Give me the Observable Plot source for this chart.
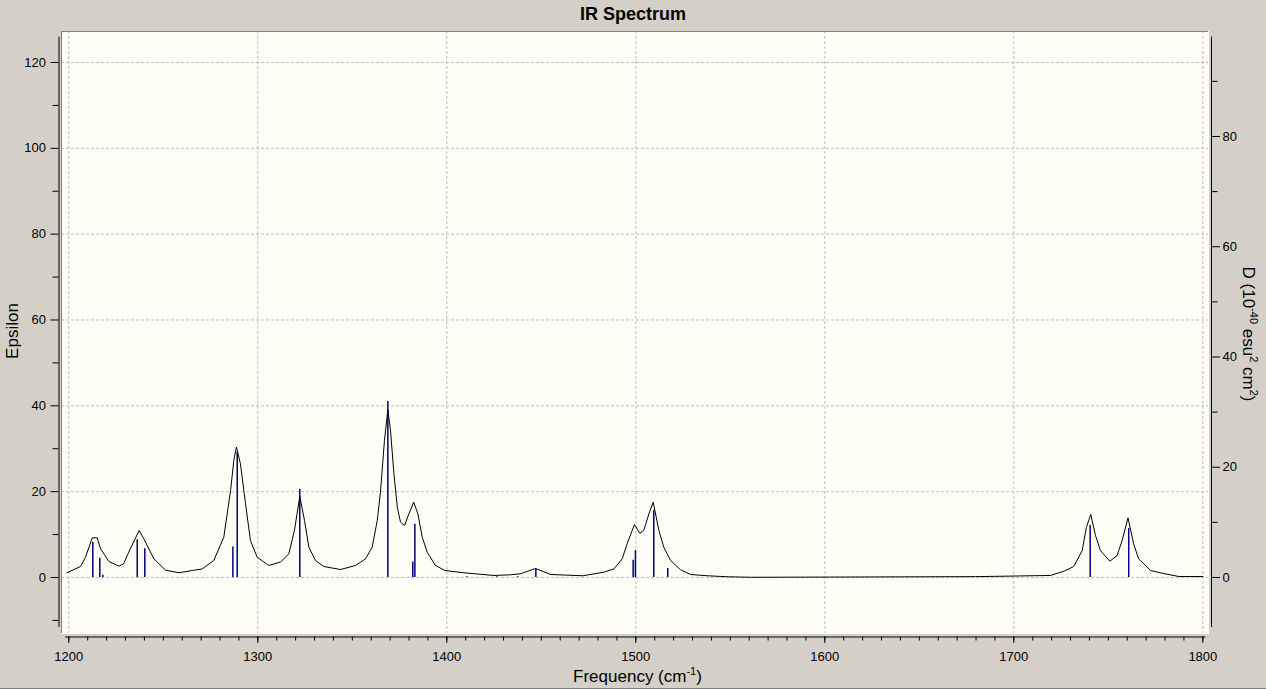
<!DOCTYPE html>
<html>
<head>
<meta charset="utf-8">
<script src="https://cdn.jsdelivr.net/npm/d3@7"></script>
<script src="https://cdn.jsdelivr.net/npm/@observablehq/plot@0.6"></script>
<style>
  html, body { margin: 0; padding: 0; background: #d4d0c8; }
  #wrap { width: 1266px; height: 688px; border-bottom: 1px solid #808080; overflow: hidden; }
  #title { height: 24px; padding-top: 4px; line-height: 22px; text-align: center; font: bold 18px "Liberation Sans", Arial, sans-serif; color: #000; }
  svg { display: block; }
</style>
</head>
<body>
<div id="wrap">
  <div id="title">IR Spectrum</div>
  <div id="chart"></div>
</div>
<script>
// ---- data ----
// stick spectrum: frequency (cm-1) and height (Epsilon units)
const stickFreq = [1212.7, 1216.4, 1218.0, 1236.2, 1240.2, 1286.8, 1289.1, 1322.2, 1368.8, 1382.0, 1383.1, 1410.6, 1426.5, 1437.6, 1447.1, 1498.6, 1499.8, 1509.5, 1516.9, 1740.4, 1760.8];
const stickEps  = [8.2, 4.5, 0.5, 8.8, 6.7, 7.1, 29.2, 20.5, 41.0, 3.6, 12.4, 0.2, 0.2, 0.2, 2.0, 4.0, 6.3, 15.6, 2.1, 12.1, 11.4];

// broadened spectrum (black curve): frequency and Epsilon
const curveFreq = [1199, 1206.2, 1208.8, 1212.4, 1215.0, 1216.8, 1221.2, 1226.5, 1229.0, 1231.7, 1237.2, 1239.7, 1245.0, 1251.2, 1258.3, 1265.3, 1270.6, 1276.7, 1282.0, 1285.6, 1287.3, 1288.7, 1290.8, 1293.5, 1296.1, 1299.7, 1305.8, 1312.0, 1316.4, 1319.4, 1322.2, 1324.7, 1327.0, 1330.5, 1334.9, 1343.8, 1351.7, 1357.0, 1360.5, 1363.2, 1364.9, 1367.0, 1368.8, 1370.2, 1372.0, 1373.8, 1375.5, 1377.6, 1379.9, 1382.5, 1384.7, 1387.0, 1389.6, 1394.0, 1399.0, 1409.0, 1424.9, 1433.7, 1439.0, 1446.9, 1454.9, 1472.0, 1483.1, 1488.4, 1492.8, 1495.4, 1499.3, 1502.1, 1504.2, 1506.9, 1509.2, 1512.2, 1514.8, 1518.4, 1523.7, 1529.0, 1537.8, 1549.2, 1560.7, 1603.9, 1679.7, 1719.4, 1726.5, 1731.7, 1736.2, 1738.4, 1740.7, 1743.2, 1745.8, 1750.8, 1754.6, 1757.3, 1760.4, 1763.4, 1766.0, 1772.3, 1779.9, 1787.3, 1800.0];
const curveEps  = [1.1, 2.56, 4.7, 9.25, 9.25, 6.7, 3.73, 2.64, 3.2, 5.9, 10.96, 9.0, 4.35, 1.7, 1.1, 1.63, 2.0, 3.96, 9.4, 20.3, 27.3, 30.4, 26.5, 17.2, 8.6, 4.7, 2.8, 3.6, 5.5, 11.0, 18.9, 13.3, 7.06, 3.96, 2.56, 1.86, 2.8, 4.35, 7.06, 13.3, 19.9, 31.9, 39.1, 34.3, 24.2, 16.4, 12.9, 12.1, 14.8, 17.55, 14.8, 9.4, 5.9, 2.8, 1.63, 1.1, 0.47, 0.63, 0.86, 2.1, 0.7, 0.4, 1.24, 2.0, 4.35, 7.85, 12.35, 10.3, 10.96, 14.8, 17.55, 10.96, 7.06, 3.96, 1.8, 0.7, 0.4, 0.16, 0.05, 0.1, 0.2, 0.47, 1.47, 2.56, 6.3, 11.7, 14.7, 9.8, 6.3, 3.8, 5.1, 8.6, 13.9, 7.85, 4.35, 1.63, 0.86, 0.23, 0.23];

// axis ticks
const xMajor = [1200, 1300, 1400, 1500, 1600, 1700, 1800];
const xMinor = d3.range(1200, 1801, 10);
const yMajor = [0, 20, 40, 60, 80, 100, 120];
const yMinor = [-10, 10, 30, 50, 70, 90, 110];
const dMajor = [0, 20, 40, 60, 80];
const dMinor = [10, 30, 50, 70, 90];
const dPerEps = 1.28446; // right axis: Epsilon units per D unit

const sticks = stickFreq.map((f, i) => ({f, e: stickEps[i]}));
const curve = curveFreq.map((f, i) => ({f, e: curveEps[i]}));

const xDomain = [1196.13, 1803.0];
const yDomain = [-13.05, 127.22];
const axisSpan = [-11.65, 125.9];
const FONT = '"Liberation Sans", Arial, sans-serif';
const GRID = "#bdbdbd";

const chart = Plot.plot({
  width: 1266,
  height: 660,
  marginTop: 3,
  marginLeft: 61,
  marginRight: 58,
  marginBottom: 55,
  x: {domain: xDomain, label: null},
  y: {domain: yDomain, label: null},
  style: {background: "transparent", fontFamily: FONT, fontSize: "13px", color: "#000"},
  marks: [
    Plot.frame({fill: "#fffff7", stroke: null}),
    Plot.gridX(xMajor, {stroke: GRID, strokeOpacity: 1, strokeDasharray: "3,2"}),
    Plot.gridY(yMajor, {stroke: GRID, strokeOpacity: 1, strokeDasharray: "3,2"}),
    Plot.frame({anchor: "top", stroke: "#808080"}),
    Plot.frame({anchor: "left", stroke: "#808080"}),
    Plot.frame({anchor: "bottom", stroke: "#ffffff"}),
    Plot.frame({anchor: "right", stroke: "#ffffff"}),
    // sticks
    Plot.ruleX(sticks, {x: "f", y1: 0, y2: "e", stroke: "#00007f", strokeWidth: 1.5}),
    // broadened curve
    Plot.line(curve, {x: "f", y: "e", stroke: "#000", strokeWidth: 1}),
    // left axis
    Plot.ruleX([xDomain[0]], {y1: axisSpan[0], y2: axisSpan[1], dx: -2.5, stroke: "#000"}),
    Plot.axisY(yMinor, {anchor: "left", tickSize: 6, dx: -2.5, text: null, label: null}),
    Plot.axisY(yMajor, {anchor: "left", tickSize: 8, tickPadding: 5, dx: -2.5, label: null, tickFormat: d => String(d)}),
    // right axis (D units)
    Plot.ruleX([xDomain[1]], {y1: axisSpan[0], y2: axisSpan[1], dx: 3, stroke: "#000"}),
    Plot.axisY(dMinor.map(d => d * dPerEps), {anchor: "right", tickSize: 5.5, dx: 3, text: null, label: null}),
    Plot.axisY(dMajor.map(d => d * dPerEps), {anchor: "right", tickSize: 8, tickPadding: 3, dx: 3, label: null,
      tickFormat: d => String(Math.round(d / dPerEps))}),
    // bottom axis
    Plot.ruleY([yDomain[0]], {x1: 1198.3, x2: 1801.6, dy: 3.5, stroke: "#000"}),
    Plot.axisX(xMinor, {anchor: "bottom", tickSize: 4, dy: 3.5, text: null, label: null}),
    Plot.axisX(xMajor, {anchor: "bottom", tickSize: 6.5, tickPadding: 8, dy: 3.5, label: null, tickFormat: d => String(d)})
  ]
});

document.getElementById("chart").appendChild(chart);

// axis titles with superscripts
const svg = d3.select(chart);
const xs = chart.scale("x"), ys = chart.scale("y");
const midY = (ys.apply(yDomain[0]) + ys.apply(yDomain[1])) / 2;

// x title
const xt = svg.append("text")
  .attr("x", (xs.apply(xDomain[0]) + xs.apply(xDomain[1])) / 2 + 3)
  .attr("y", 654)
  .attr("text-anchor", "middle")
  .style("font", `17px ${FONT}`)
  .attr("fill", "#000");
xt.append("tspan").text("Frequency (cm");
xt.append("tspan").attr("dy", -7).style("font-size", "11px").text("-1");
xt.append("tspan").attr("dy", 7).text(")");

// left title
svg.append("text")
  .attr("transform", `translate(12,${midY - 1}) rotate(-90)`)
  .attr("text-anchor", "middle")
  .attr("dy", "0.35em")
  .style("font", `17px ${FONT}`)
  .attr("fill", "#000")
  .text("Epsilon");

// right title
const rt = svg.append("text")
  .attr("transform", `translate(1249,${midY + 2}) rotate(90)`)
  .attr("text-anchor", "middle")
  .attr("dy", "0.35em")
  .style("font", `17px ${FONT}`)
  .attr("fill", "#000");
rt.append("tspan").text("D (10");
rt.append("tspan").attr("dy", -7).style("font-size", "11px").text("-40");
rt.append("tspan").attr("dy", 7).text(" esu");
rt.append("tspan").attr("dy", -7).style("font-size", "11px").text("2");
rt.append("tspan").attr("dy", 7).text(" cm");
rt.append("tspan").attr("dy", -7).style("font-size", "11px").text("2");
rt.append("tspan").attr("dy", 7).text(")");
</script>
</body>
</html>
